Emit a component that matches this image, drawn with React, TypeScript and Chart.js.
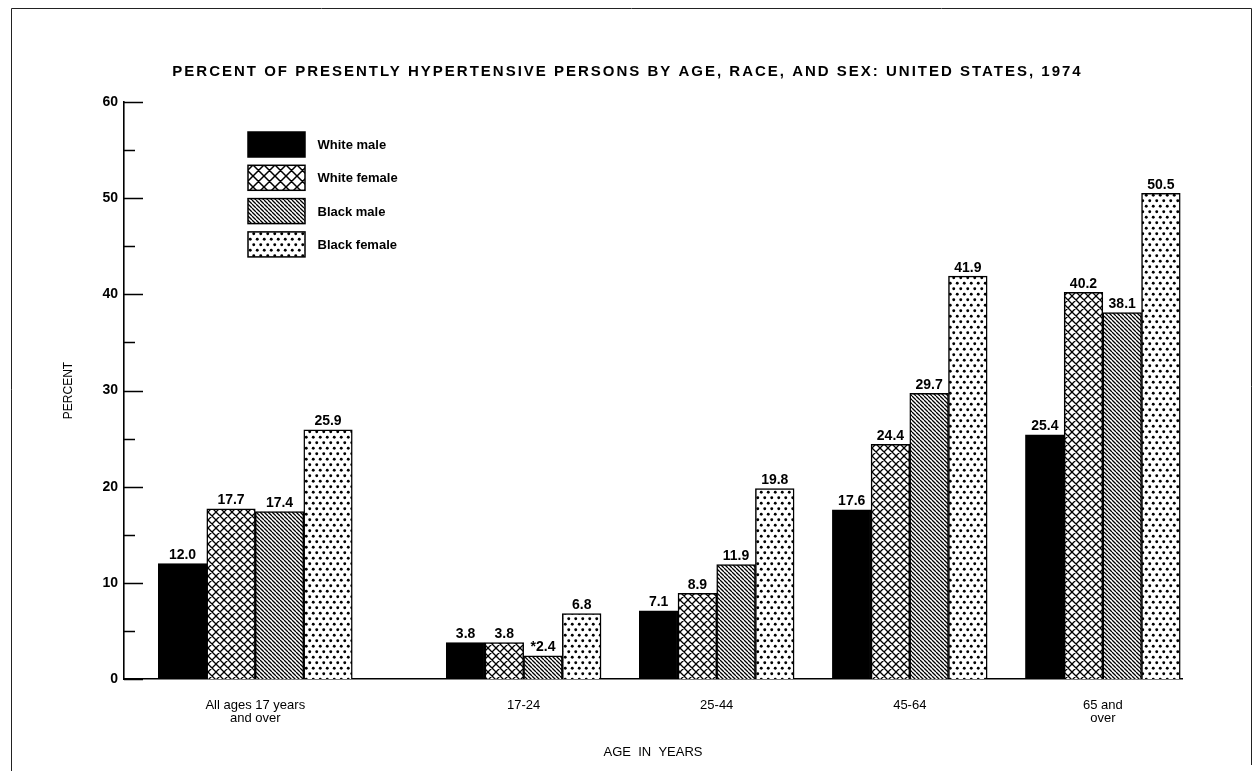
import React, { useEffect, useRef } from 'react';
import { Chart, registerables } from 'chart.js';

Chart.register(...registerables);

// ---------- data ----------
const TITLE = 'PERCENT OF PRESENTLY HYPERTENSIVE PERSONS BY AGE, RACE, AND SEX: UNITED STATES, 1974';
const X_TITLE = 'AGE  IN  YEARS';
const Y_TITLE = 'PERCENT';
const CATEGORIES: (string | string[])[] = [
  ['All ages 17 years', 'and over'],
  '17-24',
  '25-44',
  '45-64',
  ['65 and', 'over'],
];
// positions of the category groups along the horizontal axis
const CATEGORY_POSITIONS = [0.68, 2.07, 3.07, 4.07, 5.07];
const X_MIN = 0;
const X_MAX = 5.48;
const Y_MIN = 0;
const Y_MAX = 60;
const Y_STEP = 10;

const SERIES = ['White male', 'White female', 'Black male', 'Black female'];
const WHITE_MALE = [12.0, 3.8, 7.1, 17.6, 25.4];
const WHITE_FEMALE = [17.7, 3.8, 8.9, 24.4, 40.2];
const BLACK_MALE = [17.4, 2.4, 11.9, 29.7, 38.1];
const BLACK_FEMALE = [25.9, 6.8, 19.8, 41.9, 50.5];
// '*' prefix shown on a value label
const WHITE_MALE_MARK = ['', '', '', '', ''];
const WHITE_FEMALE_MARK = ['', '', '', '', ''];
const BLACK_MALE_MARK = ['', '*', '', '', ''];
const BLACK_FEMALE_MARK = ['', '', '', '', ''];

const VALUES = [WHITE_MALE, WHITE_FEMALE, BLACK_MALE, BLACK_FEMALE];
const MARKS = [WHITE_MALE_MARK, WHITE_FEMALE_MARK, BLACK_MALE_MARK, BLACK_FEMALE_MARK];

// ---------- styles ----------
const FONT = "'Liberation Sans', Arial, Helvetica, sans-serif";
const FIRST_GROUP_BAR = 48.5;
const OTHER_GROUP_BAR = 38.7;

function makePattern(w: number, h: number, draw: (g: CanvasRenderingContext2D) => void): CanvasPattern | string {
  const c = document.createElement('canvas');
  c.width = w;
  c.height = h;
  const g = c.getContext('2d');
  if (!g) return '#888';
  g.fillStyle = '#fff';
  g.fillRect(0, 0, w, h);
  g.strokeStyle = '#000';
  g.fillStyle = '#000';
  draw(g);
  return g.createPattern(c, 'repeat') || '#888';
}

function crossPattern(t: number, lw: number) {
  return makePattern(t, t, (g) => {
    g.lineWidth = lw;
    g.beginPath();
    for (const k of [-t, 0, t]) {
      g.moveTo(k, 0);
      g.lineTo(k + t, t);
      g.moveTo(k + t, 0);
      g.lineTo(k, t);
    }
    g.stroke();
  });
}

function makeFills(): (CanvasPattern | string)[] {
  const cross = crossPattern(8, 1.3);
  const diag = makePattern(4, 4, (g) => {
    g.lineWidth = 1.3;
    g.beginPath();
    for (const k of [-4, 0, 4]) {
      g.moveTo(k, 0);
      g.lineTo(k + 4, 4);
    }
    g.stroke();
  });
  const dots = makePattern(7, 11, (g) => {
    for (const [x, y] of [[1.75, 2.75], [5.25, 8.25]]) {
      g.beginPath();
      g.arc(x, y, 1.45, 0, Math.PI * 2);
      g.fill();
    }
  });
  return ['#000', cross, diag, dots];
}

export default function App() {
  const ref = useRef<HTMLCanvasElement>(null);

  useEffect(() => {
    const canvas = ref.current;
    if (!canvas) return;
    const fills = makeFills();
    const legendFills = [fills[0], crossPattern(11, 1.5), fills[2], fills[3]];

    const datasets: any[] = [];
    VALUES.forEach((vals, s) => {
      datasets.push({
        label: SERIES[s],
        data: [{ x: CATEGORY_POSITIONS[0], y: vals[0] }],
        backgroundColor: fills[s],
        barThickness: FIRST_GROUP_BAR,
        seriesIndex: s,
        catOffset: 0,
      });
    });
    VALUES.forEach((vals, s) => {
      datasets.push({
        label: SERIES[s],
        data: vals.slice(1).map((v, i) => ({ x: CATEGORY_POSITIONS[i + 1], y: v })),
        backgroundColor: fills[s],
        barThickness: OTHER_GROUP_BAR,
        seriesIndex: s,
        catOffset: 1,
      });
    });

    const decor = {
      id: 'decor',
      afterDraw(chart: any) {
        const ctx: CanvasRenderingContext2D = chart.ctx;
        const area = chart.chartArea;
        const yScale = chart.scales.y;
        ctx.save();

        // frame
        ctx.strokeStyle = '#222';
        ctx.lineWidth = 1;
        ctx.beginPath();
        ctx.moveTo(11.5, chart.height);
        ctx.lineTo(11.5, 8.5);
        ctx.lineTo(1251.5, 8.5);
        ctx.lineTo(1251.5, chart.height - 6);
        ctx.stroke();

        // title
        ctx.fillStyle = '#000';
        ctx.font = `bold 15px ${FONT}`;
        (ctx as any).letterSpacing = '2px';
        ctx.textAlign = 'center';
        ctx.textBaseline = 'alphabetic';
        ctx.fillText(TITLE, chart.width / 2, 75.5);
        (ctx as any).letterSpacing = '0px';

        // inward tick marks on y axis
        ctx.strokeStyle = '#000';
        ctx.lineWidth = 1.6;
        ctx.beginPath();
        for (let v = Y_MIN; v <= Y_MAX; v += Y_STEP / 2) {
          const py = Math.round(yScale.getPixelForValue(v)) + 0.5;
          const len = v % Y_STEP === 0 ? 19 : 11;
          ctx.moveTo(area.left, py);
          ctx.lineTo(area.left + len, py);
        }
        ctx.stroke();

        // value labels
        ctx.font = `bold 14px ${FONT}`;
        ctx.textAlign = 'center';
        ctx.textBaseline = 'alphabetic';
        chart.data.datasets.forEach((ds: any, d: number) => {
          const meta = chart.getDatasetMeta(d);
          meta.data.forEach((el: any, i: number) => {
            const cat = ds.catOffset + i;
            const v = VALUES[ds.seriesIndex][cat];
            const txt = MARKS[ds.seriesIndex][cat] + v.toFixed(1);
            ctx.fillText(txt, el.x, el.y - 4.5);
          });
        });

        // legend
        const lx = area.left + 124;
        const ly = area.top + 30;
        const bw = 57;
        const bh = 25;
        const step = 33.3;
        ctx.font = `bold 13px ${FONT}`;
        ctx.textAlign = 'left';
        ctx.textBaseline = 'middle';
        SERIES.forEach((name, s) => {
          const top = ly + s * step;
          ctx.fillStyle = legendFills[s] as any;
          ctx.fillRect(lx, top, bw, bh);
          ctx.strokeStyle = '#000';
          ctx.lineWidth = 1.5;
          ctx.strokeRect(lx, top, bw, bh);
          ctx.fillStyle = '#000';
          ctx.fillText(name, lx + bw + 12.5, top + bh / 2 + 1);
        });

        ctx.restore();
      },
    };

    const chart = new Chart(canvas, {
      type: 'bar',
      data: { datasets },
      plugins: [decor],
      options: {
        responsive: false,
        animation: false,
        layout: { padding: { top: 102, right: 73, bottom: 0, left: 0 } },
        plugins: {
          legend: { display: false },
          tooltip: { enabled: false },
          title: { display: false },
        },
        datasets: {
          bar: {
            skipNull: true,
            borderColor: '#000',
            borderWidth: 1.5,
            borderSkipped: 'start',
          },
        },
        scales: {
          x: {
            type: 'linear',
            min: X_MIN,
            max: X_MAX,
            bounds: 'data',
            offset: false,
            z: 1,
            grid: { display: false, drawTicks: false, offset: false },
            border: { display: true, color: '#000', width: 1.6 },
            afterBuildTicks: (s: any) => {
              s.ticks = CATEGORY_POSITIONS.map((v) => ({ value: v }));
            },
            ticks: {
              autoSkip: false,
              maxRotation: 0,
              minRotation: 0,
              padding: 19.5,
              color: '#000',
              font: { family: FONT, size: 13, lineHeight: 1.0 },
              callback: (_v: any, i: number) => CATEGORIES[i],
            },
            title: {
              display: true,
              text: X_TITLE,
              color: '#000',
              font: { family: FONT, size: 13 },
              padding: { top: 0, bottom: 11 },
            },
            afterFit: (s: any) => {
              s.height = 92;
            },
          },
          y: {
            type: 'linear',
            min: Y_MIN,
            max: Y_MAX,
            z: 1,
            grid: { display: false, drawTicks: false },
            border: { display: true, color: '#000', width: 1.6 },
            ticks: {
              stepSize: Y_STEP,
              padding: 6,
              color: '#000',
              font: { family: FONT, size: 14, weight: 'bold' },
            },
            title: {
              display: true,
              text: Y_TITLE,
              color: '#000',
              font: { family: FONT, size: 12 },
              padding: { top: 61, bottom: 0 },
            },
            afterFit: (s: any) => {
              s.width = 124;
            },
          },
        },
      } as any,
    });

    return () => chart.destroy();
  }, []);

  return (
    <div style={{ position: 'fixed', left: 0, top: 0, width: 1255, height: 771, background: '#fff' }}>
      <canvas ref={ref} width={1255} height={771} style={{ display: 'block', width: 1255, height: 771 }} />
    </div>
  );
}
